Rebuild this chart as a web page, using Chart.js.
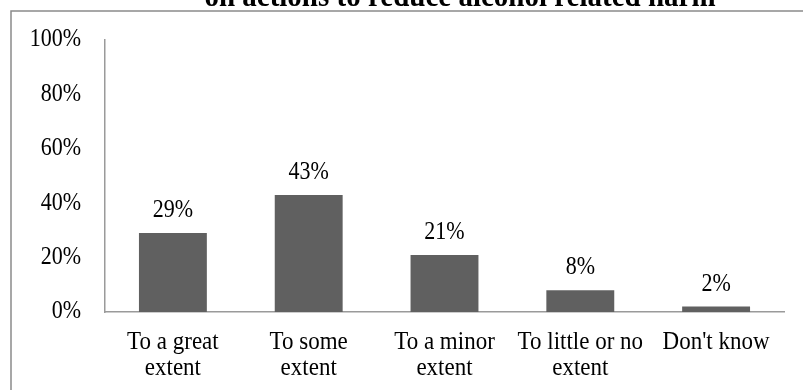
<!DOCTYPE html>
<html>
<head>
<meta charset="utf-8">
<script src="https://cdn.jsdelivr.net/npm/chart.js@4/dist/chart.umd.min.js"></script>
<style>
  html, body { margin: 0; padding: 0; background: #ffffff; }
  #wrap { width: 803px; height: 390px; position: relative; }
</style>
</head>
<body>
<div id="wrap"><canvas id="c" width="803" height="390"></canvas></div>
<script>
// Survey answers and their shares (%)
const categories = [
  ['To a great', 'extent'],
  ['To some', 'extent'],
  ['To a minor', 'extent'],
  ['To little or no', 'extent'],
  ["Don't know"]
];
const shares = [29, 43, 21, 8, 2];
const yTicks = [0, 20, 40, 60, 80, 100];
const titleText = 'on actions to reduce alcohol related harm';

const serif = "'Liberation Serif', 'Times New Roman', Times, serif";

// Text is drawn slightly taller than its natural proportions (narrow Times look)
const canvas = document.getElementById('c');
const context = canvas.getContext('2d');
const TEXT_STRETCH_Y = 1.1;
const plainFillText = context.fillText.bind(context);
context.fillText = function (text, x, y, maxWidth) {
  this.save();
  this.translate(x, y);
  this.scale(1, TEXT_STRETCH_Y);
  if (maxWidth === undefined) plainFillText(text, 0, 0);
  else plainFillText(text, 0, 0, maxWidth);
  this.restore();
};

// Frame, title and value labels drawn on the canvas around the bars
const decorations = {
  id: 'decorations',
  beforeDraw(chart) {
    const ctx = chart.ctx;
    ctx.save();
    ctx.fillStyle = '#ffffff';
    ctx.fillRect(0, 0, chart.width, chart.height);
    ctx.strokeStyle = '#8a8a8a';
    ctx.lineWidth = 1.5;
    ctx.strokeRect(11, 11, 1000, 600);
    ctx.fillStyle = '#000000';
    ctx.font = 'bold 29px ' + serif;
    ctx.textAlign = 'center';
    ctx.textBaseline = 'alphabetic';
    ctx.fillText(titleText, 460, 6);
    ctx.restore();
  },
  afterDatasetsDraw(chart) {
    const ctx = chart.ctx;
    const meta = chart.getDatasetMeta(0);
    ctx.save();
    ctx.fillStyle = '#000000';
    ctx.font = '22px ' + serif;
    ctx.textAlign = 'center';
    ctx.textBaseline = 'alphabetic';
    meta.data.forEach((bar, i) => {
      ctx.fillText(shares[i] + '%', bar.x, bar.y - 16);
    });
    ctx.restore();
  }
};

new Chart(canvas, {
  type: 'bar',
  data: {
    labels: categories,
    datasets: [{
      data: shares,
      backgroundColor: '#606060',
      borderWidth: 0,
      barPercentage: 0.5,
      categoryPercentage: 1.0
    }]
  },
  options: {
    responsive: false,
    devicePixelRatio: 1,
    animation: false,
    layout: { padding: { left: 0, right: 19, top: 40, bottom: 0 } },
    plugins: {
      legend: { display: false },
      title: { display: false },
      tooltip: { enabled: false }
    },
    scales: {
      x: {
        grid: { display: false, drawTicks: false },
        border: { display: true, color: '#9a9a9a', width: 1.5 },
        ticks: {
          color: '#000000',
          font: { family: serif, size: 23, lineHeight: 1.13 },
          padding: 17,
          maxRotation: 0,
          autoSkip: false
        },
        afterFit(scale) { scale.height = 78; }
      },
      y: {
        min: 0,
        max: 100,
        grid: { display: false, drawTicks: false },
        border: { display: true, color: '#9a9a9a', width: 1.5 },
        afterBuildTicks(scale) { scale.ticks = yTicks.map(v => ({ value: v })); },
        ticks: {
          color: '#000000',
          font: { family: serif, size: 22 },
          padding: 24,
          callback: v => v + '%'
        },
        afterFit(scale) { scale.width = 105; }
      }
    }
  },
  plugins: [decorations]
});
</script>
</body>
</html>
